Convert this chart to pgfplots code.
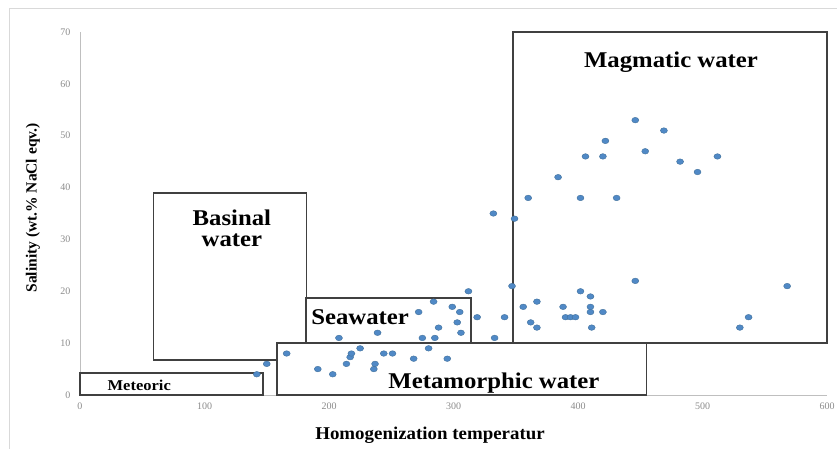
\documentclass[border=0pt]{standalone}
\usepackage{fontspec}
\setmainfont{Liberation Serif}
\usepackage{graphicx}
\usepackage{pgfplots}
\pgfplotsset{compat=1.18}
\definecolor{axgray}{HTML}{BFBFBF}
\definecolor{tickgray}{HTML}{8C8C8C}
\definecolor{boxgray}{HTML}{404040}
\definecolor{ptfill}{HTML}{5089C6}
\definecolor{ptdraw}{HTML}{41719C}
\definecolor{framegray}{HTML}{D9D9D9}
\begin{document}
\begin{tikzpicture}
\useasboundingbox (-80pt,-54pt) rectangle (757pt,395pt);
\fill[white] (-80pt,-54pt) rectangle (757pt,395pt);
\draw[framegray, line width=1pt] (-70pt,-60pt) -- (-70pt,386pt) -- (770pt,386pt);
\begin{axis}[
  at={(0pt,0pt)}, anchor=south west,
  scale only axis, width=747pt, height=363pt,
  xmin=0, xmax=600, ymin=0, ymax=70,
  axis x line*=bottom, axis y line*=left,
  axis line style={axgray, line width=0.8pt, -},
  xtick={0,100,...,600}, ytick={0,10,...,70},
  major tick length=0pt,
  tick label style={font=\fontsize{10}{12}\selectfont, color=tickgray},
  /pgf/number format/assume math mode=true,
  xticklabel style={yshift=-4pt},
  yticklabel style={xshift=-6pt},
  clip=false,
]
% Basinal
\addplot[draw=boxgray, line width=1.6pt, fill=white] coordinates {(59,6.7) (182,6.7) (182,39) (59,39)} --cycle;
% Seawater
\addplot[draw=boxgray, line width=1.6pt, fill=white] coordinates {(181.5,10) (314,10) (314,18.75) (181.5,18.75)} --cycle;
% Magmatic
\addplot[draw=boxgray, line width=1.6pt, fill=white] coordinates {(348,10) (600,10) (600,70) (348,70)} --cycle;
% Metamorphic
\addplot[draw=boxgray, line width=1.6pt, fill=white] coordinates {(158,0) (455,0) (455,10) (158,10)} --cycle;
% Meteoric
\addplot[draw=boxgray, line width=1.6pt, fill=white] coordinates {(0,0) (147,0) (147,4.2) (0,4.2)} --cycle;

\node[font=\bfseries\fontsize{22.5}{24}\selectfont] at (axis cs:474.7,64.2) {\scalebox{1.1}[1]{Magmatic water}};
\node[font=\bfseries\fontsize{22.5}{24}\selectfont, align=center] at (axis cs:122,32.2) {\scalebox{1.1}[1]{Basinal}\\[-3pt]\scalebox{1.1}[1]{water}};
\node[font=\bfseries\fontsize{22.5}{24}\selectfont] at (axis cs:225,15) {\scalebox{1.1}[1]{Seawater}};
\node[font=\bfseries\fontsize{22.5}{24}\selectfont] at (axis cs:332.5,2.3) {\scalebox{1.1}[1]{Metamorphic water}};
\node[font=\bfseries\fontsize{15}{16}\selectfont] at (axis cs:47.6,1.9) {\scalebox{1.1}[1]{Meteoric}};

\addplot[only marks, mark=*, mark size=2.8pt, mark options={fill=ptfill, draw=ptdraw, line width=0.4pt, xscale=1.25}] table {
x y
142 4
150 6
166 8
191 5
203 4
208 11
214 6
217 7.3
218 8
225 9
236 5
237 6
239 12
244 8
251 8
268 7
272 16
275 11
280 9
284 18
285 11
288 13
295 7
299 17
303 14
305 16
306 12
312 20
319 15
333 11
341 15
332 35
347 21
349 34
356 17
360 38
362 14
367 13
367 18
384 42
388 17
390 15
394 15
398 15
402 20
402 38
406 46
410 19
410 17
410 16
411 13
420 16
420 46
422 49
431 38
446 22
446 53
454 47
469 51
482 45
496 43
512 46
530 13
537 15
568 21
};
\end{axis}
\node[rotate=90, font=\bfseries\fontsize{15.5}{17}\selectfont] at (-47pt,187pt) {Salinity (wt.\% NaCl eqv.)};
\node[font=\bfseries\fontsize{18}{20}\selectfont] at (350pt,-40pt) {\scalebox{1.05}[1]{Homogenization temperatur}};
\end{tikzpicture}
\end{document}
